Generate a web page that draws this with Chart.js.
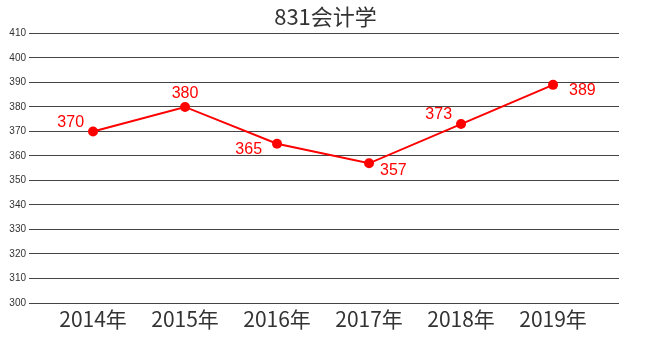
<!DOCTYPE html>
<html><head><meta charset="utf-8">
<script src="https://cdn.jsdelivr.net/npm/chart.js@4/dist/chart.umd.min.js"></script>
<style>html,body{margin:0;padding:0;background:#fff}#wrap{width:651px;height:351px}</style>
</head><body><div id="wrap"><canvas id="c" width="651" height="351"></canvas></div>
<script>
const titleText = '831会计学';
const categories = ['2014年','2015年','2016年','2017年','2018年','2019年'];
const scores = [370, 380, 365, 357, 373, 389];
const yTicks = [300,310,320,330,340,350,360,370,380,390,400,410];

// label placement per point (style only)
const labelAnchors = ['leftUp','up','leftDown','rightDown','leftUp','right'];

const labelPlugin = {
  id: 'pointLabels',
  afterDatasetsDraw(chart) {
    const ctx = chart.ctx;
    const meta = chart.getDatasetMeta(0);
    ctx.save();
    ctx.font = '16px "Liberation Sans", Arial, sans-serif';
    ctx.fillStyle = '#ff0000';
    ctx.textBaseline = 'middle';
    meta.data.forEach((pt, i) => {
      const txt = String(scores[i]);
      const a = labelAnchors[i];
      let x = pt.x, y = pt.y;
      if (a === 'leftUp') { ctx.textAlign = 'right'; x -= 9; y -= 9; }
      else if (a === 'up') { ctx.textAlign = 'center'; y -= 13; }
      else if (a === 'leftDown') { ctx.textAlign = 'right'; x -= 15; y += 6; }
      else if (a === 'rightDown') { ctx.textAlign = 'left'; x += 11; y += 7; }
      else if (a === 'right') { ctx.textAlign = 'left'; x += 16; y += 6; }
      ctx.fillText(txt, x, y);
    });
    ctx.restore();
  }
};

new Chart(document.getElementById('c'), {
  type: 'line',
  data: {
    datasets: [{
      data: scores.map((v, i) => ({ x: i, y: v })),
      borderColor: '#ff0000',
      backgroundColor: '#ff0000',
      borderWidth: 2,
      pointRadius: 5,
      pointHoverRadius: 5,
      pointBackgroundColor: '#ff0000',
      pointBorderWidth: 0,
      tension: 0
    }]
  },
  options: {
    responsive: false,
    animation: false,
    devicePixelRatio: 1,
    layout: { padding: 0 },
    plugins: {
      legend: { display: false },
      tooltip: { enabled: false },
      title: {
        display: true,
        text: titleText,
        color: '#333',
        font: { family: '"Noto Sans CJK SC", sans-serif', size: 22, weight: 'normal', lineHeight: 1.2 },
        padding: { top: 3, bottom: 4 }
      }
    },
    scales: {
      x: {
        type: 'linear',
        min: -0.696,
        max: 5.717,
        afterBuildTicks: (s) => { s.ticks = categories.map((c, i) => ({ value: i })); },
        afterFit: (s) => { s.height = 48; },
        grid: { display: false, drawTicks: false },
        border: { display: false },
        ticks: {
          callback: (v) => categories[v],
          color: '#333',
          padding: 3,
          maxRotation: 0,
          autoSkip: false,
          font: { family: '"Noto Sans CJK SC", sans-serif', size: 21 }
        }
      },
      y: {
        min: 300,
        max: 410,
        afterBuildTicks: (s) => { s.ticks = yTicks.map(v => ({ value: v })); },
        afterFit: (s) => { s.width = 29; },
        grid: { color: '#444', lineWidth: 1, drawTicks: false },
        border: { display: false },
        ticks: {
          color: '#333',
          padding: 3,
          font: { family: '"Liberation Sans", Arial, sans-serif', size: 10 }
        }
      },
      yRight: {
        position: 'right',
        display: true,
        min: 300,
        max: 410,
        afterFit: (s) => { s.width = 32; },
        grid: { display: false, drawTicks: false },
        border: { display: false },
        ticks: { display: false }
      }
    }
  },
  plugins: [labelPlugin]
});
</script></body></html>
